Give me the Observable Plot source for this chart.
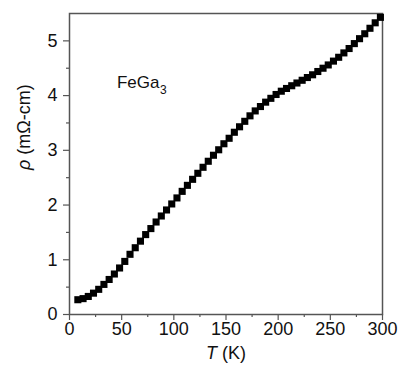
<!DOCTYPE html>
<html>
<head>
<meta charset="utf-8">
<script src="https://cdn.jsdelivr.net/npm/d3@7"></script>
<script src="https://cdn.jsdelivr.net/npm/@observablehq/plot@0.6"></script>
<style>
  html, body { margin: 0; padding: 0; background: white; }
  #chart { width: 399px; height: 368px; }
</style>
</head>
<body>
<div id="chart"></div>
<script>
// Temperature (K) of each measured point
const temperature = [8, 13, 18, 23, 28, 33, 38, 43, 48, 53, 58, 63, 68, 73, 78, 83, 88, 93, 98, 103,
  108, 113, 118, 123, 128, 133, 138, 143, 148, 153, 158, 163, 168, 173, 178, 183, 188, 193, 198, 203,
  208, 213, 218, 223, 228, 233, 238, 243, 248, 253, 258, 263, 268, 273, 278, 283, 288, 293, 298];
// Resistivity (mΩ-cm)
const resistivity = [0.27, 0.29, 0.33, 0.39, 0.46, 0.55, 0.64, 0.74, 0.85, 0.97, 1.10, 1.22, 1.34, 1.46, 1.57, 1.69, 1.80, 1.91, 2.02, 2.13,
  2.25, 2.36, 2.47, 2.58, 2.69, 2.80, 2.91, 3.01, 3.12, 3.22, 3.33, 3.43, 3.53, 3.63, 3.72, 3.80, 3.88, 3.95, 4.02, 4.08,
  4.13, 4.18, 4.23, 4.28, 4.33, 4.38, 4.44, 4.50, 4.56, 4.63, 4.70, 4.78, 4.86, 4.95, 5.04, 5.13, 5.23, 5.33, 5.43];

const xTicks = [0, 50, 100, 150, 200, 250, 300];
const xMinorTicks = [25, 75, 125, 175, 225, 275];
const yTicks = [0, 1, 2, 3, 4, 5];
const yMinorTicks = [0.5, 1.5, 2.5, 3.5, 4.5];

const xLabel = "T (K)";
const yLabel = "ρ (mΩ-cm)";
const compoundName = "FeGa";
const compoundSub = "3";

const data = temperature.map((t, i) => ({T: t, rho: resistivity[i]}));

const axisColor = "#555";
const fs = 18;

const svg = Plot.plot({
  width: 399,
  height: 368,
  marginLeft: 69,
  marginRight: 17,
  marginTop: 13,
  marginBottom: 54,
  style: {fontFamily: "'Liberation Sans', Arial, sans-serif", color: "#111", background: "white"},
  x: {domain: [0, 300]},
  y: {domain: [0, 5.5]},
  marks: [
    Plot.frame({stroke: axisColor, strokeWidth: 1.5}),
    Plot.axisX({ticks: xTicks, tickFormat: d3.format("d"), tickSize: 6, tickPadding: 2, fontSize: fs, label: null, stroke: axisColor, strokeWidth: 1.2, fill: "#111"}),
    Plot.axisX({ticks: xMinorTicks, tickSize: 3, tickFormat: () => "", label: null, stroke: axisColor, strokeWidth: 1.2}),
    Plot.axisY({ticks: yTicks, tickFormat: d3.format("d"), tickSize: 6, tickPadding: 6, fontSize: fs, label: null, stroke: axisColor, strokeWidth: 1.2, fill: "#111"}),
    Plot.axisY({ticks: yMinorTicks, tickSize: 3, tickFormat: () => "", label: null, stroke: axisColor, strokeWidth: 1.2}),
    Plot.dot(data, {x: "T", y: "rho", symbol: "square", r: 4, fill: "black", stroke: "none"}),
    Plot.text([compoundName], {x: 45.5, y: 4.24, text: d => d, textAnchor: "start", fontSize: 17, fill: "#111"}),
    Plot.text([compoundSub], {x: 45.5, y: 4.24, text: d => d, textAnchor: "start", dx: 43, dy: 8, fontSize: 12, fill: "#111"}),
    Plot.text([xLabel], {frameAnchor: "bottom", text: d => d, dy: 44, fontSize: fs, fill: "#111"}),
    Plot.text([yLabel], {frameAnchor: "left", text: d => d, rotate: -90, dx: -45, dy: 6, fontSize: fs, fill: "#111"})
  ]
});

// Italicize the variable symbols in the axis labels
d3.select(svg).selectAll("text").each(function() {
  const el = d3.select(this);
  const s = this.textContent;
  if (s === xLabel) {
    el.text(null);
    el.append("tspan").attr("font-style", "italic").text("T");
    el.append("tspan").text(" (K)");
  } else if (s === yLabel) {
    el.text(null);
    el.append("tspan").attr("font-style", "italic").text("ρ");
    el.append("tspan").text(" (mΩ-cm)");
  }
});

document.getElementById("chart").appendChild(svg);
</script>
</body>
</html>
